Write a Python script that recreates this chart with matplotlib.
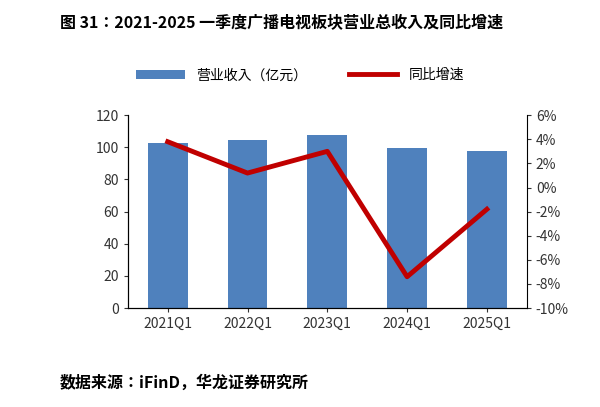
import matplotlib.pyplot as plt
from matplotlib.ticker import FuncFormatter

plt.rcParams['font.family'] = ['Noto Sans CJK JP', 'Noto Sans CJK SC', 'DejaVu Sans']

quarters = ['2021Q1', '2022Q1', '2023Q1', '2024Q1', '2025Q1']
revenue = [103.0, 104.5, 107.5, 99.5, 97.5]
growth = [3.8, 1.2, 3.0, -7.4, -1.8]

fig = plt.figure(figsize=(6.0, 4.07), dpi=100)
ax = fig.add_axes([0.213, 0.243, 0.665, 0.474])
ax2 = ax.twinx()

x = range(len(quarters))
ax.bar(x, revenue, width=0.5, color='#4f81bd', label='营业收入（亿元）')
ax2.plot(x, growth, color='#c00000', lw=3.5, label='同比增速')

ax.set_ylim(0, 120)
ax.set_yticks(range(0, 121, 20))
ax2.set_ylim(-10, 6)
ax2.set_yticks(range(-10, 7, 2))
ax2.yaxis.set_major_formatter(FuncFormatter(lambda v, p: f'{int(v)}%'))
ax.set_xticks(list(x))
ax.set_xticklabels(quarters)
ax.set_xlim(-0.5, 4.5)

for a in (ax, ax2):
    a.tick_params(labelsize=10, colors='#333333', length=3)
    a.spines['top'].set_visible(False)
ax.spines['right'].set_visible(False)

h1, l1 = ax.get_legend_handles_labels()
h2, l2 = ax2.get_legend_handles_labels()
fig.legend(h1 + h2, l1 + l2, loc='center', bbox_to_anchor=(0.5, 0.815), ncol=2,
           frameon=False, fontsize=10, handlelength=3.5, columnspacing=3)

fig.text(0.1, 0.945, '图 31：2021-2025 一季度广播电视板块营业总收入及同比增速',
         fontsize=11.5, fontweight='bold', va='center')
fig.text(0.1, 0.06, '数据来源：iFinD，华龙证券研究所', fontsize=11.5,
         fontweight='bold', va='center')

fig.savefig('out.png', dpi=100)
